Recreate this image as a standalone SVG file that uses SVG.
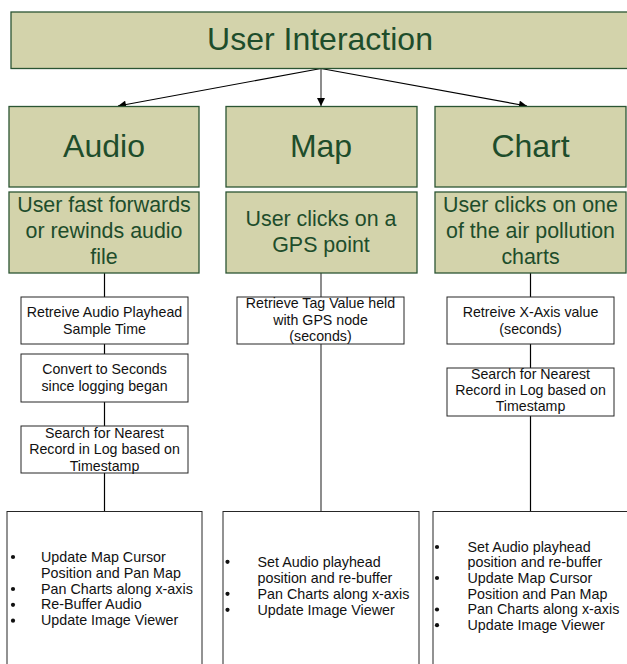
<svg xmlns="http://www.w3.org/2000/svg" width="627" height="664" viewBox="0 0 627 664">
  <style>
    .green { fill: #d3d3ab; stroke: #2b5533; stroke-width: 1.3; }
    .box { fill: #ffffff; stroke: #262626; stroke-width: 1; }
    .title { font-family: "Liberation Sans", Arial, sans-serif; font-size: 32px; fill: #1e4d2b; text-anchor: middle; }
    .sub { font-family: "Liberation Sans", Arial, sans-serif; font-size: 21.4px; fill: #1e4d2b; text-anchor: middle; }
    .step { font-family: "Liberation Sans", Arial, sans-serif; font-size: 14.2px; fill: #111111; text-anchor: middle; }
    .item { font-family: "Liberation Sans", Arial, sans-serif; font-size: 14.3px; fill: #111111; }
    .link { stroke: #000000; stroke-width: 1.2; fill: none; }
    .link-grey { stroke: #707070; stroke-width: 1.6; fill: none; }
  </style>
  <defs>
    <marker id="arrow" viewBox="0 0 10 10" refX="10" refY="5" markerWidth="9" markerHeight="8" markerUnits="userSpaceOnUse" orient="auto">
      <path d="M0,0 L10,5 L0,10 z" fill="#000000"/>
    </marker>
  </defs>

  <rect width="627" height="664" fill="#ffffff"/>

  <!-- connectors -->
  <g id="connectors">
    <line class="link" x1="321" y1="68.5" x2="118" y2="106" marker-end="url(#arrow)"/>
    <line class="link-grey" x1="321" y1="68.5" x2="321" y2="106" marker-end="url(#arrow)"/>
    <line class="link" x1="321" y1="68.5" x2="527" y2="106" marker-end="url(#arrow)"/>
    <!-- audio column -->
    <line class="link" x1="104.5" y1="273" x2="104.5" y2="297"/>
    <line class="link" x1="104.5" y1="344" x2="104.5" y2="354"/>
    <line class="link" x1="104.5" y1="402" x2="104.5" y2="426"/>
    <line class="link" x1="104.5" y1="473" x2="104.5" y2="511.5"/>
    <!-- map column -->
    <line class="link-grey" x1="321" y1="273" x2="321" y2="297"/>
    <line class="link-grey" x1="321" y1="344" x2="321" y2="511.5"/>
    <!-- chart column -->
    <line class="link" x1="530.5" y1="273" x2="530.5" y2="297"/>
    <line class="link" x1="530.5" y1="344" x2="530.5" y2="368"/>
    <line class="link" x1="530.5" y1="416" x2="530.5" y2="511.5"/>
  </g>

  <!-- top level -->
  <g id="user-interaction">
    <rect class="green" x="11" y="12" width="640" height="56.5"/>
    <text class="title" x="320" y="50">User Interaction</text>
  </g>

  <!-- audio column -->
  <g id="audio">
    <rect class="green" x="9" y="106.5" width="190" height="80.5"/>
    <text class="title" x="104" y="157">Audio</text>
  </g>
  <g id="audio-event">
    <rect class="green" x="9" y="192" width="190" height="81"/>
    <text class="sub" x="104" y="212">User fast forwards</text>
    <text class="sub" x="104" y="238">or rewinds audio</text>
    <text class="sub" x="104" y="264">file</text>
  </g>
  <g id="audio-step1">
    <rect class="box" x="21" y="297" width="167" height="47"/>
    <text class="step" x="104.5" y="317">Retreive Audio Playhead</text>
    <text class="step" x="104.5" y="334">Sample Time</text>
  </g>
  <g id="audio-step2">
    <rect class="box" x="21" y="354" width="167" height="48"/>
    <text class="step" x="104.5" y="374">Convert to Seconds</text>
    <text class="step" x="104.5" y="390.5">since logging began</text>
  </g>
  <g id="audio-step3">
    <rect class="box" x="21" y="426" width="167" height="47"/>
    <text class="step" x="104.5" y="437.5">Search for Nearest</text>
    <text class="step" x="104.5" y="454">Record in Log based on</text>
    <text class="step" x="104.5" y="470.5">Timestamp</text>
  </g>
  <g id="audio-result">
    <rect class="box" x="7" y="511.5" width="195" height="170"/>
    <circle cx="13" cy="557" r="2.1" fill="#111"/>
    <circle cx="13" cy="589" r="2.1" fill="#111"/>
    <circle cx="13" cy="604.8" r="2.1" fill="#111"/>
    <circle cx="13" cy="620.7" r="2.1" fill="#111"/>
    <text class="item" x="41" y="561.7">Update Map Cursor</text>
    <text class="item" x="41" y="577.6">Position and Pan Map</text>
    <text class="item" x="41" y="593.5">Pan Charts along x-axis</text>
    <text class="item" x="41" y="609.4">Re-Buffer Audio</text>
    <text class="item" x="41" y="625.3">Update Image Viewer</text>
  </g>

  <!-- map column -->
  <g id="map">
    <rect class="green" x="226" y="106.5" width="191" height="80.5"/>
    <text class="title" x="321" y="157">Map</text>
  </g>
  <g id="map-event">
    <rect class="green" x="226" y="192" width="191" height="81"/>
    <text class="sub" x="321" y="226">User clicks on a</text>
    <text class="sub" x="321" y="252">GPS point</text>
  </g>
  <g id="map-step1">
    <rect class="box" x="237" y="297" width="167" height="47"/>
    <text class="step" x="320.5" y="307.5">Retrieve Tag Value held</text>
    <text class="step" x="320.5" y="324.5">with GPS node</text>
    <text class="step" x="320.5" y="341">(seconds)</text>
  </g>
  <g id="map-result">
    <rect class="box" x="223" y="511.5" width="196" height="170"/>
    <circle cx="227.5" cy="561.8" r="2.1" fill="#111"/>
    <circle cx="227.5" cy="593.8" r="2.1" fill="#111"/>
    <circle cx="227.5" cy="609.8" r="2.1" fill="#111"/>
    <text class="item" x="257.5" y="566.5">Set Audio playhead</text>
    <text class="item" x="257.5" y="582.5">position and re-buffer</text>
    <text class="item" x="257.5" y="598.5">Pan Charts along x-axis</text>
    <text class="item" x="257.5" y="614.5">Update Image Viewer</text>
  </g>

  <!-- chart column -->
  <g id="chart">
    <rect class="green" x="435" y="106.5" width="191" height="80.5"/>
    <text class="title" x="530.5" y="157">Chart</text>
  </g>
  <g id="chart-event">
    <rect class="green" x="435" y="192" width="191" height="81"/>
    <text class="sub" x="530.5" y="212">User clicks on one</text>
    <text class="sub" x="530.5" y="238">of the air pollution</text>
    <text class="sub" x="530.5" y="264">charts</text>
  </g>
  <g id="chart-step1">
    <rect class="box" x="447" y="297" width="167" height="47"/>
    <text class="step" x="530.5" y="317">Retreive X-Axis value</text>
    <text class="step" x="530.5" y="333.5">(seconds)</text>
  </g>
  <g id="chart-step2">
    <rect class="box" x="447" y="368" width="167" height="48"/>
    <text class="step" x="530.5" y="378.5">Search for Nearest</text>
    <text class="step" x="530.5" y="394.8">Record in Log based on</text>
    <text class="step" x="530.5" y="411">Timestamp</text>
  </g>
  <g id="chart-result">
    <rect class="box" x="433" y="511.5" width="220" height="170"/>
    <circle cx="437" cy="547" r="2.1" fill="#111"/>
    <circle cx="437" cy="578" r="2.1" fill="#111"/>
    <circle cx="437" cy="609.5" r="2.1" fill="#111"/>
    <circle cx="437" cy="625.2" r="2.1" fill="#111"/>
    <text class="item" x="467.5" y="551.5">Set Audio playhead</text>
    <text class="item" x="467.5" y="567.2">position and re-buffer</text>
    <text class="item" x="467.5" y="582.9">Update Map Cursor</text>
    <text class="item" x="467.5" y="598.6">Position and Pan Map</text>
    <text class="item" x="467.5" y="614.3">Pan Charts along x-axis</text>
    <text class="item" x="467.5" y="630">Update Image Viewer</text>
  </g>
</svg>
